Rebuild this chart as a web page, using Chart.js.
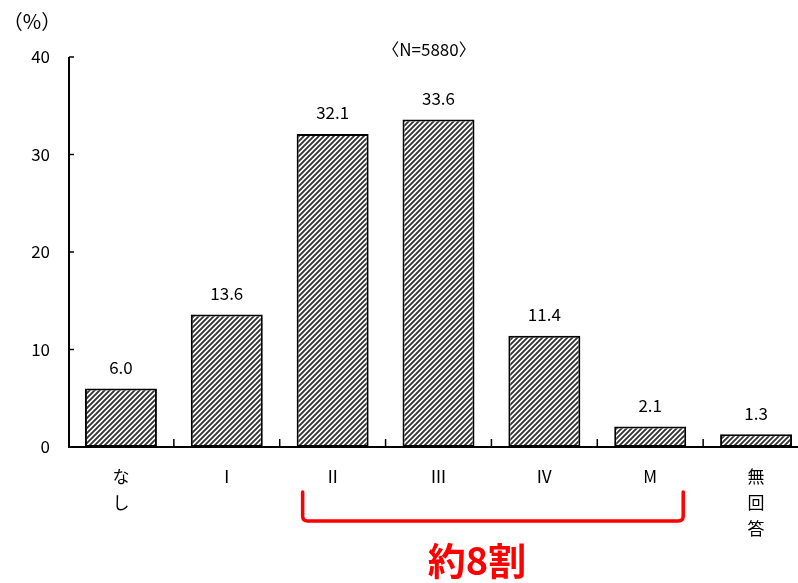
<!DOCTYPE html>
<html><head><meta charset="utf-8">
<script src="https://cdn.jsdelivr.net/npm/chart.js@4"></script>
<style>html,body{margin:0;padding:0;background:#fff;overflow:hidden;width:798px;height:583px;}canvas{display:block;}</style>
</head><body>
<canvas id="c" width="809" height="583"></canvas>
<script>
const categories = [['な','し'], 'Ⅰ', 'Ⅱ', 'Ⅲ', 'Ⅳ', 'M', ['無','回','答']];
const values = [6.0, 13.6, 32.1, 33.6, 11.4, 2.1, 1.3];
const yTicks = [0, 10, 20, 30, 40];
const sampleNote = '〈N=5880〉';
const unitLabel = '（%）';
const bracketText = '約8割';
const bracketFrom = 2, bracketTo = 5;

const FONT = '"Noto Sans CJK JP", "Noto Sans", sans-serif';

function makePattern() {
  const s = 5;
  const t = document.createElement('canvas');
  t.width = s; t.height = s;
  const g = t.getContext('2d');
  g.fillStyle = '#fff'; g.fillRect(0,0,s,s);
  g.strokeStyle = '#333'; g.lineWidth = 1.9;
  g.beginPath();
  g.moveTo(-1, s+1); g.lineTo(s+1, -1);
  g.moveTo(-1, 1); g.lineTo(1, -1);
  g.moveTo(s-1, s+1); g.lineTo(s+1, s-1);
  g.stroke();
  return g.createPattern(t, 'repeat');
}

const overlay = {
  id: 'overlay',
  afterDraw(chart) {
    const ctx = chart.ctx;
    const xs = chart.scales.x, ys = chart.scales.y;
    const area = chart.chartArea;
    const ax = area.left + 1;
    ctx.save();
    ctx.strokeStyle = '#000'; ctx.lineWidth = 2;
    ctx.beginPath();
    ctx.moveTo(ax, ys.getPixelForValue(40)); ctx.lineTo(ax, ys.getPixelForValue(0));
    ctx.lineTo(chart.width, ys.getPixelForValue(0));
    ctx.stroke();
    ctx.lineWidth = 1.5;
    yTicks.forEach(v => {
      const y = ys.getPixelForValue(v);
      ctx.beginPath(); ctx.moveTo(ax, y); ctx.lineTo(ax + 5, y); ctx.stroke();
    });
    const y0 = ys.getPixelForValue(0);
    for (let i = 0; i < categories.length - 1; i++) {
      const x = (xs.getPixelForValue(i) + xs.getPixelForValue(i+1)) / 2;
      ctx.beginPath(); ctx.moveTo(x, y0); ctx.lineTo(x, y0 - 8); ctx.stroke();
    }
    ctx.fillStyle = '#000';
    ctx.font = '17px ' + FONT;
    ctx.textAlign = 'center'; ctx.textBaseline = 'middle';
    const meta = chart.getDatasetMeta(0);
    meta.data.forEach((bar, i) => {
      ctx.fillText(values[i].toFixed(1), bar.x, bar.y - 21);
    });
    ctx.font = '17px ' + FONT;
    ctx.fillText(sampleNote, 429, 50);
    ctx.font = '20px ' + FONT;
    ctx.fillText(unitLabel, 32, 21);
    const bx1 = xs.getPixelForValue(bracketFrom) - 30;
    const bx2 = xs.getPixelForValue(bracketTo) + 33;
    const by1 = 492, by2 = 521, r = 5;
    ctx.strokeStyle = '#ff0000'; ctx.lineWidth = 3.5; ctx.lineJoin = 'round'; ctx.lineCap = 'round';
    ctx.beginPath();
    ctx.moveTo(bx1, by1);
    ctx.lineTo(bx1, by2 - r);
    ctx.quadraticCurveTo(bx1, by2, bx1 + r, by2);
    ctx.lineTo(bx2 - r, by2);
    ctx.quadraticCurveTo(bx2, by2, bx2, by2 - r);
    ctx.lineTo(bx2, by1);
    ctx.stroke();
    ctx.fillStyle = '#ff0000';
    ctx.font = 'bold 38px ' + FONT;
    ctx.fillText(bracketText, 477, 561);
    ctx.restore();
  }
};

new Chart(document.getElementById('c'), {
  type: 'bar',
  data: {
    labels: categories,
    datasets: [{
      data: values,
      backgroundColor: makePattern(),
      borderColor: '#000',
      borderWidth: 2,
      borderSkipped: false,
      categoryPercentage: 0.68,
      barPercentage: 1.0
    }]
  },
  options: {
    responsive: false,
    animation: false,
    devicePixelRatio: 1,
    layout: { padding: { top: 57, right: 0, left: 0, bottom: 0 } },
    plugins: { legend: { display: false }, tooltip: { enabled: false } },
    scales: {
      x: {
        offset: true,
        grid: { display: false, drawTicks: false },
        border: { display: false },
        ticks: { color: '#000', font: { family: FONT, size: 17, lineHeight: 1.55 }, padding: 16, maxRotation: 0, autoSkip: false },
        afterFit(s) { s.height = 136; }
      },
      y: {
        min: 0, max: 40,
        afterBuildTicks(s) { s.ticks = yTicks.map(v => ({ value: v })); },
        grid: { display: false, drawTicks: false },
        border: { display: false },
        ticks: { color: '#000', font: { family: FONT, size: 17 }, padding: 18 },
        afterFit(s) { s.width = 68; }
      }
    }
  },
  plugins: [overlay]
});
</script>
</body></html>
